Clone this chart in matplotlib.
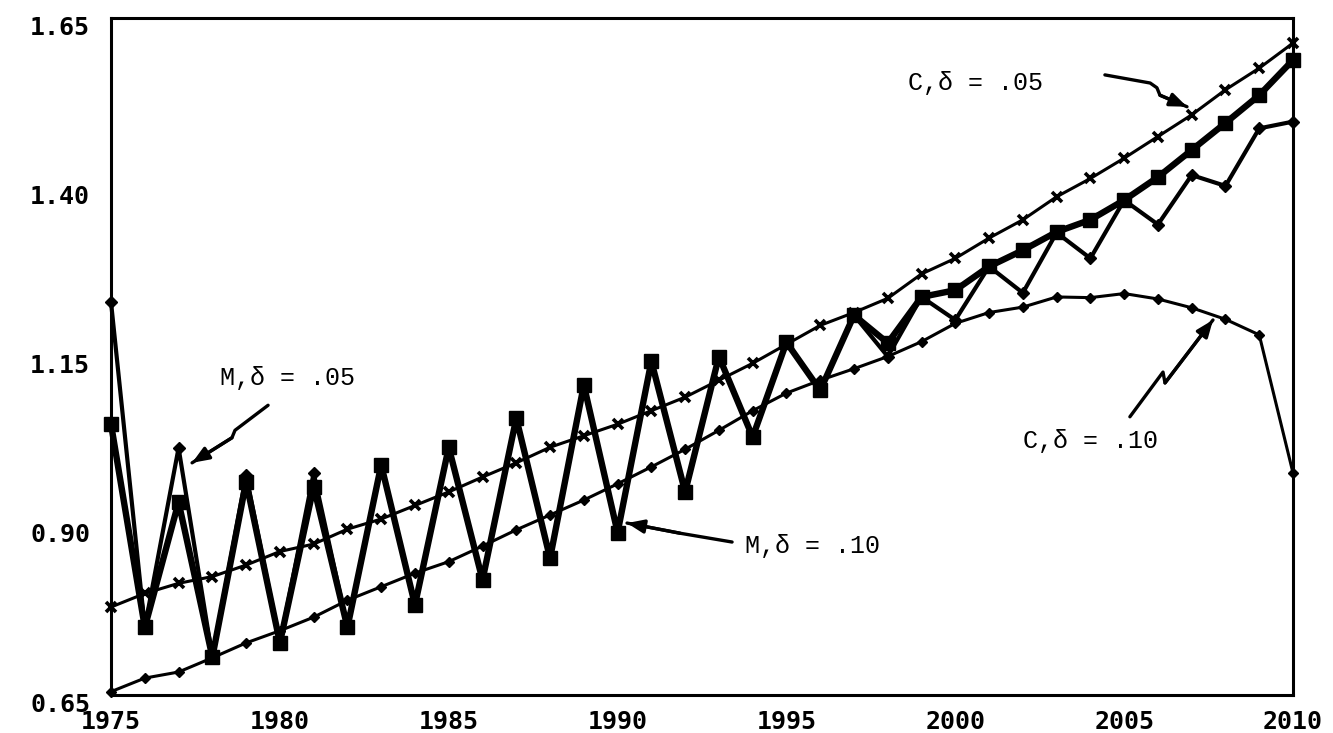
import matplotlib
matplotlib.use("Agg")
import matplotlib.pyplot as plt
import matplotlib.transforms as mtransforms
import numpy as np

years = list(range(1975, 2011))

c_d05 = [0.780, 0.800, 0.815, 0.825, 0.842, 0.862, 0.873, 0.895, 0.910, 0.930,
         0.950, 0.972, 0.993, 1.016, 1.033, 1.050, 1.070, 1.090, 1.115, 1.140,
         1.168, 1.196, 1.215, 1.236, 1.272, 1.295, 1.325, 1.352, 1.386, 1.413,
         1.443, 1.475, 1.507, 1.544, 1.576, 1.613]

c_d10 = [0.655, 0.675, 0.684, 0.705, 0.727, 0.745, 0.765, 0.790, 0.810, 0.830,
         0.847, 0.870, 0.894, 0.916, 0.938, 0.962, 0.987, 1.013, 1.041, 1.070,
         1.096, 1.115, 1.132, 1.150, 1.172, 1.199, 1.215, 1.223, 1.238, 1.237,
         1.243, 1.235, 1.222, 1.205, 1.182, 0.978]

m_d10 = [1.050, 0.750, 0.935, 0.706, 0.965, 0.727, 0.958, 0.750, 0.990, 0.783,
         1.016, 0.820, 1.059, 0.852, 1.108, 0.890, 1.143, 0.950, 1.150, 1.031,
         1.171, 1.100, 1.211, 1.170, 1.238, 1.248, 1.283, 1.307, 1.334, 1.352,
         1.381, 1.415, 1.455, 1.495, 1.536, 1.588]

m_d05 = [1.230, 0.750, 1.015, 0.706, 0.975, 0.727, 0.978, 0.750, 0.990, 0.783,
         1.016, 0.820, 1.059, 0.852, 1.108, 0.890, 1.143, 0.950, 1.150, 1.031,
         1.171, 1.100, 1.211, 1.150, 1.238, 1.204, 1.283, 1.244, 1.333, 1.295,
         1.381, 1.345, 1.418, 1.402, 1.487, 1.497]

xticks = [1975, 1980, 1985, 1990, 1995, 2000, 2005, 2010]
xtick_labels = ["1975", "1980", "1985", "1990", "1995", "2000", "2005", "2010"]
yticks = [0.65, 0.90, 1.15, 1.40, 1.65]
ytick_labels = ["0.65", "0.90", "1.15", "1.40", "1.65"]

fig = plt.figure(figsize=(13.33, 7.33), dpi=100)
ax = fig.add_axes([0.0833, 0.0518, 0.8867, 0.9236])

ax.plot(years, m_d10, color="black", lw=4.6, marker="s", ms=10.5,
        solid_joinstyle="round", clip_on=False, zorder=3)
ax.plot(years, m_d05, color="black", lw=3.0, marker="D", ms=6.5,
        solid_joinstyle="round", clip_on=False, zorder=3)
ax.plot(years, c_d05, color="black", lw=2.2, marker="x", ms=7.5, mew=2.6,
        clip_on=False, zorder=4)
ax.plot(years, c_d10, color="black", lw=2.2, marker="D", ms=5,
        clip_on=False, zorder=4)

ax.set_xlim(1975, 2010)
ax.set_ylim(0.65, 1.65)
for s in ax.spines.values():
    s.set_linewidth(2.2)
    s.set_color("black")

tick_font = dict(family="DejaVu Sans Mono", weight="bold", size=18)
ax.set_xticks(xticks)
ax.set_xticklabels(xtick_labels, **tick_font)
ax.set_yticks(yticks)
ax.set_yticklabels(ytick_labels, **tick_font)
ax.tick_params(axis="both", length=0)
ax.tick_params(axis="x", pad=11)
ax.tick_params(axis="y", pad=15)
off = mtransforms.ScaledTranslation(0, -7 / 100, fig.dpi_scale_trans)
for lab in ax.get_yticklabels():
    lab.set_transform(lab.get_transform() + off)

txt_font = dict(family=["Liberation Mono", "DejaVu Sans Mono"], size=18, color="black")
ax.text(1998.6, 1.544, "C,δ = .05", ha="left", va="baseline", **txt_font)
ax.text(2002.0, 1.015, "C,δ = .10", ha="left", va="baseline", **txt_font)
ax.text(1978.23, 1.108, "M,δ = .05", ha="left", va="baseline", **txt_font)
ax.text(1993.77, 0.860, "M,δ = .10", ha="left", va="baseline", **txt_font)


def squiggle_arrow(pts):
    xs = [p[0] for p in pts]
    ys = [p[1] for p in pts]
    ax.plot(xs, ys, color="black", lw=2.4, solid_capstyle="round", zorder=5)
    ax.annotate("", xy=pts[-1], xytext=pts[-2],
                arrowprops=dict(arrowstyle="-|>,head_length=1.0,head_width=0.4",
                                color="black", lw=2.4, shrinkA=0, shrinkB=0),
                zorder=6)


squiggle_arrow([(2004.43, 1.566), (2005.77, 1.554), (2005.97, 1.547),
                (2006.06, 1.536), (2006.86, 1.519)])
squiggle_arrow([(2005.17, 1.061), (2006.15, 1.127), (2006.21, 1.111),
                (2007.63, 1.204)])
squiggle_arrow([(1979.65, 1.078), (1978.67, 1.041), (1978.58, 1.030),
                (1977.40, 0.993)])
squiggle_arrow([(1993.39, 0.876), (1991.85, 0.889), (1990.28, 0.904)])

fig.savefig("out.png", dpi=100)
